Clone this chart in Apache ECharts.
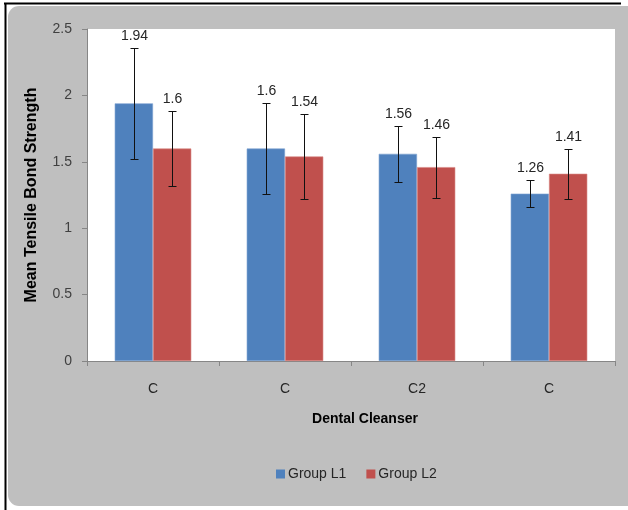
<!DOCTYPE html>
<html>
<head>
<meta charset="utf-8">
<script src="https://cdn.jsdelivr.net/npm/echarts@6/dist/echarts.min.js"></script>
<style>
html,body{margin:0;padding:0;background:#fff;}
#chart{width:628px;height:510px;}
</style>
</head>
<body>
<div id="chart"></div>
<script>
// ---- data ----
const categories = ['C', 'C1', 'C2', 'C3'];
const tickLabels = ['C', 'C', 'C2', 'C'];
const seriesNames = ['Group L1', 'Group L2'];
const l1Means = [1.94, 1.6, 1.56, 1.26];
const l1Err = [0.42, 0.34, 0.21, 0.10];
const l2Means = [1.6, 1.54, 1.46, 1.41];
const l2Err = [0.28, 0.32, 0.23, 0.19];
const yTicks = [0, 0.5, 1, 1.5, 2, 2.5];

const colors = ['#4f81bd', '#c0504d'];
const catGap = 0.42;
const FONT = '"Liberation Sans", Arial, sans-serif';

function errData(means, errs) {
  return means.map((m, i) => [i, m, errs[i]]);
}

function makeErrRender(groupIndex) {
  return function (params, api) {
    const idx = api.value(0);
    const mean = api.value(1);
    const err = api.value(2);
    const band = api.size([1, 0])[0];
    const barW = band * (1 - catGap) / 2;
    const off = (groupIndex === 0 ? -0.5 : 0.5) * barW;
    const top = api.coord([idx, mean + err]);
    const bot = api.coord([idx, mean - err]);
    const x = Math.round(top[0] + off) + 0.5;
    const yT = Math.round(top[1]) + 0.5;
    const yB = Math.round(bot[1]) + 0.5;
    const cap = 4;
    const st = { stroke: '#111', lineWidth: 1 };
    return {
      type: 'group',
      children: [
        { type: 'line', shape: { x1: x, y1: yT, x2: x, y2: yB }, style: st },
        { type: 'line', shape: { x1: x - cap, y1: yT, x2: x + cap, y2: yT }, style: st },
        { type: 'line', shape: { x1: x - cap, y1: yB, x2: x + cap, y2: yB }, style: st },
        { type: 'text', x: x, y: yT - 12,
          style: { text: String(mean), x: 0, y: 0, align: 'center', verticalAlign: 'middle',
                   font: '14px ' + FONT, fill: '#262626' } }
      ]
    };
  };
}

const chart = echarts.init(document.getElementById('chart'), null, { renderer: 'canvas' });
const option = {
  animation: false,
  backgroundColor: '#ffffff',
  graphic: [
    { type: 'rect', z: -10, shape: { x: 8, y: 6, width: 640, height: 500, r: 11 }, style: { fill: '#bfbfbf' } },
    { type: 'line', z: -9, shape: { x1: 4, y1: 3.5, x2: 621, y2: 3.5 }, style: { stroke: '#000', lineWidth: 2 } },
    { type: 'line', z: -9, shape: { x1: 5.5, y1: 3, x2: 5.5, y2: 510 }, style: { stroke: '#000', lineWidth: 2 } }
  ],
  legend: {
    data: seriesNames,
    left: 271,
    top: 462,
    itemWidth: 9,
    itemHeight: 9,
    itemGap: 20,
    icon: 'rect',
    itemStyle: { borderWidth: 0 },
    textStyle: { fontFamily: FONT, fontSize: 14, color: '#262626', padding: [0, 0, 0, -2] }
  },
  grid: {
    left: 87, right: 13, top: 29, bottom: 149,
    show: true, backgroundColor: '#ffffff', borderWidth: 0
  },
  xAxis: {
    type: 'category',
    data: categories,
    name: 'Dental Cleanser',
    nameLocation: 'middle',
    nameGap: 51,
    nameTextStyle: { fontFamily: FONT, fontSize: 14, fontWeight: 'bold', color: '#000', padding: [0, 0, 0, 28] },
    axisLine: { lineStyle: { color: '#868686' } },
    axisTick: { show: true, alignWithLabel: false, length: 5, lineStyle: { color: '#868686' } },
    axisLabel: {
      margin: 21, fontFamily: FONT, fontSize: 14, color: '#262626',
      formatter: function (v, i) { return tickLabels[i]; }
    }
  },
  yAxis: {
    type: 'value',
    min: yTicks[0], max: yTicks[yTicks.length - 1], interval: 0.5,
    name: 'Mean Tensile Bond Strength',
    nameLocation: 'middle',
    nameGap: 47,
    nameTextStyle: { fontFamily: FONT, fontSize: 16, fontWeight: 'bold', color: '#000' },
    axisLine: { show: true, lineStyle: { color: '#868686' } },
    axisTick: { show: true, length: 5, lineStyle: { color: '#868686' } },
    splitLine: { show: false },
    axisLabel: { margin: 15, fontFamily: FONT, fontSize: 14, color: '#404040' }
  },
  series: [
    { name: seriesNames[0], type: 'bar', data: l1Means, barGap: '0%', barCategoryGap: (catGap * 100) + '%',
      itemStyle: { color: colors[0], borderColor: '#7ea3d2', borderWidth: 0.6 } },
    { name: seriesNames[1], type: 'bar', data: l2Means, barGap: '0%', barCategoryGap: (catGap * 100) + '%',
      itemStyle: { color: colors[1], borderColor: '#d88683', borderWidth: 0.6 } },
    { type: 'custom', renderItem: makeErrRender(0), data: errData(l1Means, l1Err), z: 5,
      encode: { x: 0, y: 1 }, silent: true },
    { type: 'custom', renderItem: makeErrRender(1), data: errData(l2Means, l2Err), z: 5,
      encode: { x: 0, y: 1 }, silent: true }
  ]
};
chart.setOption(option);
</script>
</body>
</html>
